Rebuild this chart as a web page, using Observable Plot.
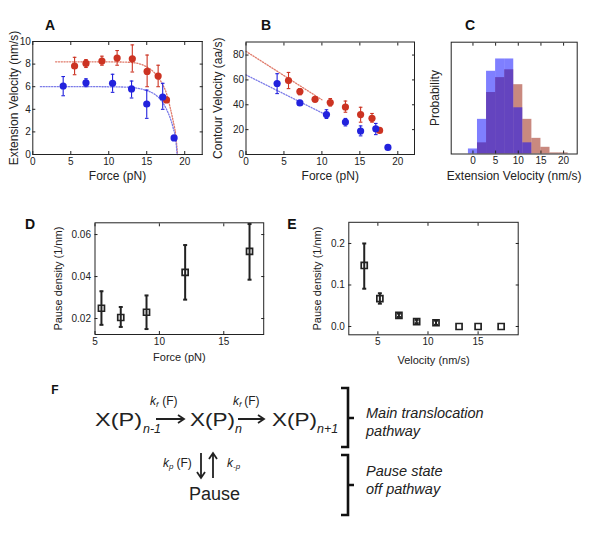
<!DOCTYPE html>
<html><head><meta charset="utf-8">
<script src="https://cdn.jsdelivr.net/npm/d3@7"></script>
<script src="https://cdn.jsdelivr.net/npm/@observablehq/plot@0.6"></script>
<style>
body{margin:0;background:#fff;}
#fig{position:relative;width:600px;height:538px;overflow:hidden;background:#fff;}
.panel{position:absolute;}
</style></head><body><div id="fig"></div>
<script>
// ---------- Panel A: extension velocity vs force ----------
const forceA_red = [5.5, 7, 9.1, 11.1, 13.1, 15.05, 16.5, 17.6];
const velA_red   = [7.83, 8.06, 8.27, 8.53, 8.47, 7.35, 6.94, 4.83];
const velA_red_lo= [7.06, 7.7, 7.9, 7.9, 7.3, 6.0, 6.0, 4.6];
const velA_red_hi= [8.6, 8.4, 8.7, 9.2, 9.7, 8.8, 7.9, 5.0];
const forceA_blue = [4.0, 7.0, 10.5, 13.0, 15.0, 17.1, 18.6];
const velA_blue   = [6.06, 6.35, 6.3, 5.8, 4.47, 5.09, 1.47];
const velA_blue_lo= [5.2, 6.0, 5.5, 5.0, 3.2, 4.0, null];
const velA_blue_hi= [6.9, 6.7, 7.1, 6.5, 5.7, 6.3, null];
const fitA_red_x = [3, 6, 9, 12, 13.5, 15, 16, 17, 17.6, 18.1, 18.5, 18.8, 19.05];
const fitA_red_y = [8.2, 8.2, 8.2, 8.18, 8.1, 7.75, 7.25, 6.3, 5.4, 4.1, 2.9, 1.8, 0];
const fitA_blue_x = [1, 4, 8, 12, 13.5, 15, 16, 17, 17.6, 18.1, 18.5, 18.8, 19.0];
const fitA_blue_y = [6.0, 6.0, 6.0, 5.97, 5.9, 5.65, 5.35, 4.7, 4.0, 3.2, 2.3, 1.4, 0];

// ---------- Panel B: contour velocity vs force ----------
const forceB_red = [5.6, 7.1, 9.1, 11.1, 13.1, 15.1, 16.6, 17.6];
const velB_red   = [59.5, 50.7, 44.4, 41.8, 38.2, 32.1, 29.1, 19.4];
const velB_red_lo= [53, 48, 43, 39, 34, 26, 26, null];
const velB_red_hi= [66, 53, 46, 45, 43, 38, 33, null];
const forceB_blue = [4.1, 7.1, 10.6, 13.1, 15.1, 17.1, 18.7];
const velB_blue   = [57.1, 41.5, 32.1, 26.1, 18.9, 20.7, 5.7];
const velB_blue_lo= [49, 40, 29, 23, 15, 16, null];
const velB_blue_hi= [65, 43, 36, 29, 23, 25, null];
const fitB_red_x = [0, 10];
const fitB_red_y = [83, 44];
const fitB_blue_x = [0, 10.5];
const fitB_blue_y = [64, 32];

// ---------- Panel C: histograms ----------
const binCenters = [0, 2, 4, 6, 8, 10, 12, 14, 16, 18, 20];
const probBlue = [0.0135, 0.093, 0.222, 0.255, 0.255, 0.124, 0.030, 0, 0, 0, 0];
const probRed  = [0, 0.030, 0.165, 0.205, 0.226, 0.186, 0.093, 0.042, 0.018, 0.003, 0.003];

// ---------- Panel D: pause density vs force ----------
const forceD = [5.5, 7, 9, 12, 17];
const pauseD = [0.0249, 0.0205, 0.023, 0.042, 0.052];
const pauseD_lo = [0.017, 0.016, 0.015, 0.029, 0.0385];
const pauseD_hi = [0.033, 0.0255, 0.031, 0.055, 0.065];

// ---------- Panel E: pause density vs velocity ----------
const velE = [3.64, 5.2, 7.1, 8.87, 10.8, 13.1, 15.0, 17.3];
const pauseE = [0.147, 0.067, 0.027, 0.012, 0.009, 0, 0, 0];
const pauseE_lo = [0.091, 0.055, 0.023, 0.008, 0.004, null, null, null];
const pauseE_hi = [0.200, 0.080, 0.031, 0.016, 0.014, null, null, null];

// ---------- helpers ----------
const FONT = "'Liberation Sans', Arial, Helvetica, sans-serif";
const zip = (x, y, lo, hi) => x.map((v, i) => ({x: v, y: y[i], lo: lo ? lo[i] : null, hi: hi ? hi[i] : null}));
const capSym = {draw(ctx, size) { const w = Math.sqrt(size / Math.PI); ctx.moveTo(-w, 0); ctx.lineTo(w, 0); }};
function errMarks(rows, color, sw, capR) {
  const e = rows.filter(d => d.lo != null);
  return [
    Plot.ruleX(e, {x: "x", y1: "lo", y2: "hi", stroke: color, strokeWidth: sw}),
    Plot.dot(e, {x: "x", y: "lo", symbol: capSym, r: capR, stroke: color, strokeWidth: sw, fill: "none"}),
    Plot.dot(e, {x: "x", y: "hi", symbol: capSym, r: capR, stroke: color, strokeWidth: sw, fill: "none"})
  ];
}
const blank = () => "";
function boxAxes({xt, yt, yf, fs = 10, xPad = 3, yPad = 2, yTicks = true, tl = 3}) {
  const m = [
    Plot.axisX(xt, {anchor: "bottom", tickSize: 0, tickPadding: xPad, fontSize: fs, label: null}),
    Plot.axisX(xt, {anchor: "bottom", tickSize: tl, dy: -tl, tickFormat: blank, label: null}),
    Plot.axisX(xt, {anchor: "top", tickSize: tl, dy: tl, tickFormat: blank, label: null})
  ];
  if (yTicks) {
    m.push(Plot.axisY(yt, {anchor: "left", tickSize: 0, tickPadding: yPad, fontSize: fs, tickFormat: yf, label: null}));
    m.push(Plot.axisY(yt, {anchor: "left", tickSize: tl, dx: tl, tickFormat: blank, label: null}));
    m.push(Plot.axisY(yt, {anchor: "right", tickSize: tl, dx: -tl, tickFormat: blank, label: null}));
  } else {
    m.push(Plot.axisY([], {anchor: "left", tickSize: 0, label: null}));
  }
  m.push(Plot.frame({stroke: "#222", strokeWidth: 1}));
  return m;
}
function labels(xl, yl, xdy, ydx, fs = 12) {
  return [
    Plot.text([xl], {text: d => d, frameAnchor: "bottom", dy: xdy, fontSize: fs, fill: "#222", textAnchor: "middle", lineAnchor: "middle"}),
    Plot.text([yl], {text: d => d, frameAnchor: "left", dx: ydx, rotate: -90, fontSize: fs, fill: "#222", textAnchor: "middle", lineAnchor: "middle"})
  ];
}
const fig = document.getElementById("fig");
function place(frame, box, opts) {
  const p = Plot.plot({
    width: box.x1 - box.x0, height: box.y1 - box.y0,
    marginLeft: frame.l - box.x0, marginRight: box.x1 - frame.r,
    marginTop: frame.t - box.y0, marginBottom: box.y1 - frame.b,
    style: {fontFamily: FONT, fontSize: "10px", color: "#222", background: "transparent", overflow: "visible"},
    ...opts
  });
  p.classList.add("panel");
  p.style.left = box.x0 + "px";
  p.style.top = box.y0 + "px";
  p.style.maxWidth = "none";
  fig.appendChild(p);
}
const RED = "#cc3322", BLUE = "#2222dd", RED_L = "#e07a6a", BLUE_L = "#7a7ae8";

// ---------- A ----------
{
  const r = zip(forceA_red, velA_red, velA_red_lo, velA_red_hi);
  const b = zip(forceA_blue, velA_blue, velA_blue_lo, velA_blue_hi);
  place({l: 32.3, t: 41, r: 201.7, b: 154}, {x0: 0, y0: 30, x1: 215, y1: 190}, {
    x: {domain: [0, 22.3]}, y: {domain: [0, 10]},
    marks: [
      Plot.line(zip(fitA_red_x, fitA_red_y), {x: "x", y: "y", stroke: RED_L, strokeWidth: 1.3, strokeDasharray: "1.2,1.6", curve: "monotone-x"}),
      Plot.line(zip(fitA_blue_x, fitA_blue_y), {x: "x", y: "y", stroke: BLUE_L, strokeWidth: 1.3, strokeDasharray: "1.2,1.6", curve: "monotone-x"}),
      ...errMarks(r, RED, 1.1, 1.8), ...errMarks(b, BLUE, 1.1, 1.8),
      Plot.dot(r, {x: "x", y: "y", r: 3.6, fill: RED}),
      Plot.dot(b, {x: "x", y: "y", r: 3.6, fill: BLUE}),
      ...boxAxes({xt: [0, 5, 10, 15, 20], yt: [0, 2, 4, 6, 8, 10]}),
      ...labels("Force (pN)", "Extension Velocity (nm/s)", 21.7, -19)
    ]
  });
}
// ---------- B ----------
{
  const r = zip(forceB_red, velB_red, velB_red_lo, velB_red_hi);
  const b = zip(forceB_blue, velB_blue, velB_blue_lo, velB_blue_hi);
  place({l: 245.5, t: 41.5, r: 414, b: 154}, {x0: 205, y0: 30, x1: 425, y1: 190}, {
    x: {domain: [0, 22.2]}, y: {domain: [0, 90.5]},
    marks: [
      Plot.line(zip(fitB_red_x, fitB_red_y), {x: "x", y: "y", stroke: RED_L, strokeWidth: 1.3, strokeDasharray: "1.2,1.6"}),
      Plot.line(zip(fitB_blue_x, fitB_blue_y), {x: "x", y: "y", stroke: BLUE_L, strokeWidth: 1.3, strokeDasharray: "1.2,1.6"}),
      ...errMarks(r, RED, 1.1, 1.8), ...errMarks(b, BLUE, 1.1, 1.8),
      Plot.dot(r, {x: "x", y: "y", r: 3.6, fill: RED}),
      Plot.dot(b, {x: "x", y: "y", r: 3.6, fill: BLUE}),
      ...boxAxes({xt: [0, 5, 10, 15, 20], yt: [0, 20, 40, 60, 80]}),
      ...labels("Force (pN)", "Contour Velocity (aa/s)", 21.7, -28)
    ]
  });
}
// ---------- C ----------
{
  const r = binCenters.map((c, i) => ({c, p: probRed[i]}));
  const b = binCenters.map((c, i) => ({c, p: probBlue[i]}));
  place({l: 450.7, t: 41.7, r: 576.7, b: 153.5}, {x0: 420, y0: 30, x1: 590, y1: 190}, {
    x: {domain: [-4.8, 23]}, y: {domain: [0, 0.3]},
    marks: [
      Plot.rectY(r.filter(d => d.p > 0), {x1: d => d.c - 1, x2: d => d.c + 1, y: "p", fill: "#931400", fillOpacity: 0.5}),
      Plot.rectY(b.filter(d => d.p > 0), {x1: d => d.c - 1, x2: d => d.c + 1, y: "p", fill: "#0000ff", fillOpacity: 0.5}),
      ...boxAxes({xt: [0, 5, 10, 15, 20], yt: [], yTicks: false}),
      ...labels("Extension Velocity (nm/s)", "Probability", 22, -16)
    ]
  });
}
// ---------- D ----------
{
  const d = zip(forceD, pauseD, pauseD_lo, pauseD_hi);
  place({l: 94.5, t: 222.3, r: 263.2, b: 334}, {x0: 45, y0: 210, x1: 275, y1: 370}, {
    x: {domain: [5, 18.1]}, y: {domain: [0.0124, 0.0656]},
    marks: [
      ...errMarks(d, "#222", 2, 2),
      Plot.dot(d, {x: "x", y: "y", symbol: "square", r: 3.4, stroke: "#222", strokeWidth: 1.7, fill: "none"}),
      ...boxAxes({xt: [5, 10, 15], yt: [0.02, 0.04, 0.06], yPad: 4}),
      ...labels("Force (pN)", "Pause density (1/nm)", 22.7, -37, 11)
    ]
  });
}
// ---------- E ----------
{
  const d = zip(velE, pauseE, pauseE_lo, pauseE_hi);
  place({l: 348.3, t: 221.8, r: 517.7, b: 334.3}, {x0: 300, y0: 210, x1: 530, y1: 375}, {
    x: {domain: [2.1, 19]}, y: {domain: [-0.02, 0.251]},
    marks: [
      ...errMarks(d, "#222", 2, 2),
      Plot.dot(d, {x: "x", y: "y", symbol: "square", r: 3.4, stroke: "#222", strokeWidth: 1.7, fill: "none"}),
      ...boxAxes({xt: [5, 10, 15], yt: [0, 0.1, 0.2], yPad: 4}),
      ...labels("Velocity (nm/s)", "Pause density (1/nm)", 25.7, -31.6, 11)
    ]
  });
}

// ---------- Letters and panel F scheme ----------
const ns = "http://www.w3.org/2000/svg";
const ov = document.createElementNS(ns, "svg");
ov.setAttribute("width", 600); ov.setAttribute("height", 538);
ov.setAttribute("style", "position:absolute;left:0;top:0;pointer-events:none");
ov.setAttribute("font-family", FONT);
ov.innerHTML = `
<g font-weight="bold" font-size="14" fill="#111" text-anchor="middle">
  <text x="50" y="30">A</text>
  <text x="266" y="30">B</text>
  <text x="470" y="30">C</text>
  <text x="30" y="229">D</text>
  <text x="292" y="229">E</text>
  <text x="55" y="394" font-size="12">F</text>
</g>
<g fill="#222" stroke="none">
  <text x="95" y="426" font-size="19" textLength="47" lengthAdjust="spacingAndGlyphs">X(P)</text>
  <text x="143" y="433" font-size="12.5" font-style="italic">n-1</text>
  <text x="190" y="426" font-size="19" textLength="45" lengthAdjust="spacingAndGlyphs">X(P)</text>
  <text x="235" y="433" font-size="12.5" font-style="italic">n</text>
  <text x="272" y="426" font-size="19" textLength="45" lengthAdjust="spacingAndGlyphs">X(P)</text>
  <text x="317" y="433" font-size="12.5" font-style="italic">n+1</text>
  <text x="150" y="405" font-size="12"><tspan font-style="italic">k</tspan><tspan font-style="italic" font-size="8" dy="2">f</tspan><tspan dx="4" dy="-2">(F)</tspan></text>
  <text x="233" y="405" font-size="12"><tspan font-style="italic">k</tspan><tspan font-style="italic" font-size="8" dy="2">f</tspan><tspan dx="3" dy="-2">(F)</tspan></text>
  <text x="163" y="467" font-size="12"><tspan font-style="italic">k</tspan><tspan font-style="italic" font-size="8" dy="2">p</tspan><tspan dx="3" dy="-2">(F)</tspan></text>
  <text x="227" y="467" font-size="12"><tspan font-style="italic">k</tspan><tspan font-style="italic" font-size="8" dy="2">-p</tspan></text>
  <text x="189" y="500" font-size="18">Pause</text>
  <g font-style="italic" font-size="14.5">
    <text x="366" y="418">Main translocation</text>
    <text x="366" y="436">pathway</text>
    <text x="366" y="476">Pause state</text>
    <text x="366" y="494">off pathway</text>
  </g>
</g>
<g stroke="#222" fill="none" stroke-width="1.8">
  <path d="M156 419 H184 M178 415 L184 419 L178 423"/>
  <path d="M238 419 H264 M258 415 L264 419 L258 423"/>
  <path d="M201 453 V478 M197 472 L201 478 L205 472"/>
  <path d="M213 478 V453 M209 459 L213 453 L217 459"/>
</g>
<g stroke="#111" fill="none" stroke-width="2.6">
  <path d="M341 388 H348 V447 H341 M348 418 H354"/>
  <path d="M341 455 H348 V515 H341 M348 485 H354"/>
</g>`;
fig.appendChild(ov);
</script></body></html>
